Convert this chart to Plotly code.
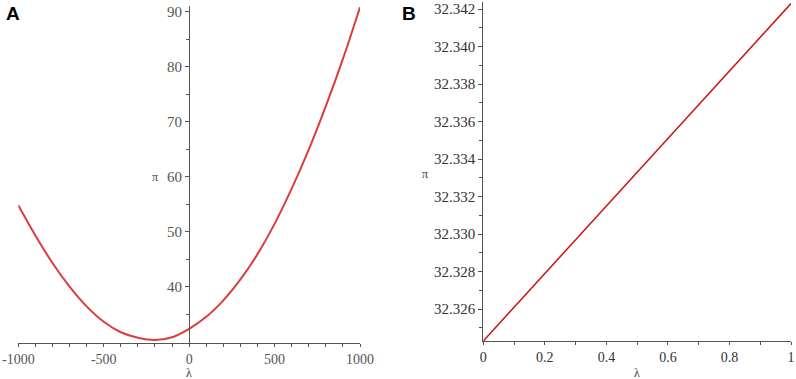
import plotly.graph_objects as go

# Panel A data
lam_a = [-1000, -900, -800, -700, -600, -500, -400, -300, -200, -100, 0,
         100, 200, 300, 400, 500, 600, 700, 800, 900, 1000]
pi_a = [54.8, 49.3, 44.3, 40.0, 36.4, 33.6, 31.7, 30.7, 30.3, 30.8, 32.32,
        34.5, 37.5, 41.3, 45.9, 51.4, 57.8, 64.9, 72.8, 81.4, 90.8]

# Panel B data
lam_b = [0, 0.1, 0.2, 0.3, 0.4, 0.5, 0.6, 0.7, 0.8, 0.9, 1.0]
pi_b = [32.3243, 32.3261, 32.3279, 32.3297, 32.3315, 32.3333,
        32.3351, 32.3369, 32.3387, 32.3405, 32.3423]

xa_ticks = [-1000, -500, 0, 500, 1000]
xa_labels = ["-1000", "-500", "0", "500", "1000"]
ya_ticks = [40, 50, 60, 70, 80, 90]
xb_ticks = [0, 0.2, 0.4, 0.6, 0.8, 1]
xb_labels = ["0", "0.2", "0.4", "0.6", "0.8", "1"]
yb_ticks = [32.326, 32.328, 32.330, 32.332, 32.334, 32.336, 32.338, 32.340, 32.342]

W, H = 796, 379
fig = go.Figure()
fig.add_trace(go.Scatter(x=lam_a, y=pi_a, mode="lines", line=dict(color="#dc3c3c", width=2, shape="spline"),
                         xaxis="x", yaxis="y", showlegend=False, hoverinfo="skip"))
fig.add_trace(go.Scatter(x=lam_b, y=pi_b, mode="lines", line=dict(color="#c81414", width=1.5),
                         xaxis="x2", yaxis="y2", showlegend=False, hoverinfo="skip"))

xa_dom = [18.3 / W, 360 / W]
ya_dom = [(H - 342.7) / H, (H - 6.1) / H]
xb_dom = [483.3 / W, 791 / W]
yb_dom = [(H - 341) / H, (H - 1.7) / H]

SERIF = "Liberation Serif, Times New Roman, serif"
tickfont_a = dict(family=SERIF, size=15, color="#555555")
tickfont_ax = dict(family=SERIF, size=14, color="#555555")
tickfont_b = dict(family=SERIF, size=15, color="#333333")
tickfont_bx = dict(family=SERIF, size=14, color="#333333")
axis_common = dict(showgrid=False, zeroline=False, showline=True, linecolor="#555555", linewidth=1.2,
                   ticks="outside", tickcolor="#555555", tickwidth=1, automargin=False)

ya_pos = xa_dom[0] + (0 - (-1000)) / 2000 * (xa_dom[1] - xa_dom[0])

fig.update_layout(
    width=W, height=H, margin=dict(l=0, r=0, t=0, b=0, autoexpand=False),
    paper_bgcolor="white", plot_bgcolor="white",
    xaxis=dict(domain=xa_dom, range=[-1000, 1000], anchor="y", tickvals=xa_ticks, ticktext=xa_labels,
               tickfont=tickfont_ax, ticklen=3,
               minor=dict(dtick=100, ticks="outside", ticklen=3, tickcolor="#555555"),
               **axis_common),
    yaxis=dict(domain=ya_dom, range=[29.8, 91.0], anchor="free", position=ya_pos, tickvals=ya_ticks,
               tickfont=tickfont_a, ticklen=4,
               minor=dict(tickvals=[35, 45, 55, 65, 75, 85], ticks="outside", ticklen=3,
                          tickcolor="#555555"),
               **axis_common),
    xaxis2=dict(domain=xb_dom, range=[0, 1], anchor="y2", tickvals=xb_ticks, ticktext=xb_labels,
                tickfont=tickfont_bx, ticklen=3,
                minor=dict(dtick=0.1, ticks="outside", ticklen=3, tickcolor="#555555"),
                **axis_common),
    yaxis2=dict(domain=yb_dom, range=[32.3243, 32.3424], anchor="x2", tickvals=yb_ticks,
                tickformat=".3f", tickfont=tickfont_b, ticklen=4,
                minor=dict(dtick=0.001, tick0=32.326, ticks="outside", ticklen=3, tickcolor="#555555"),
                **axis_common),
)

ann_font = dict(family=SERIF, size=12, color="#444444")
fig.add_annotation(x=189.3 / W, y=(H - 373) / H, xref="paper", yref="paper", text="λ",
                   showarrow=False, font=ann_font, xanchor="center", yanchor="middle")
fig.add_annotation(x=637 / W, y=(H - 373) / H, xref="paper", yref="paper", text="λ",
                   showarrow=False, font=ann_font, xanchor="center", yanchor="middle")
fig.add_annotation(x=155 / W, y=(H - 177) / H, xref="paper", yref="paper", text="π",
                   showarrow=False, font=ann_font, xanchor="center", yanchor="middle")
fig.add_annotation(x=425 / W, y=(H - 174) / H, xref="paper", yref="paper", text="π",
                   showarrow=False, font=ann_font, xanchor="center", yanchor="middle")
fig.add_annotation(x=4 / W, y=(H - 14) / H, xref="paper", yref="paper", text="<b>A</b>",
                   showarrow=False, font=dict(family="Liberation Sans", size=19, color="black"),
                   xanchor="left", yanchor="middle")
fig.add_annotation(x=400 / W, y=(H - 14) / H, xref="paper", yref="paper", text="<b>B</b>",
                   showarrow=False, font=dict(family="Liberation Sans", size=19, color="black"),
                   xanchor="left", yanchor="middle")

fig.write_html("out.html", config={"displayModeBar": False},
               post_script="document.body.style.margin='0';document.body.style.overflow='hidden';")
